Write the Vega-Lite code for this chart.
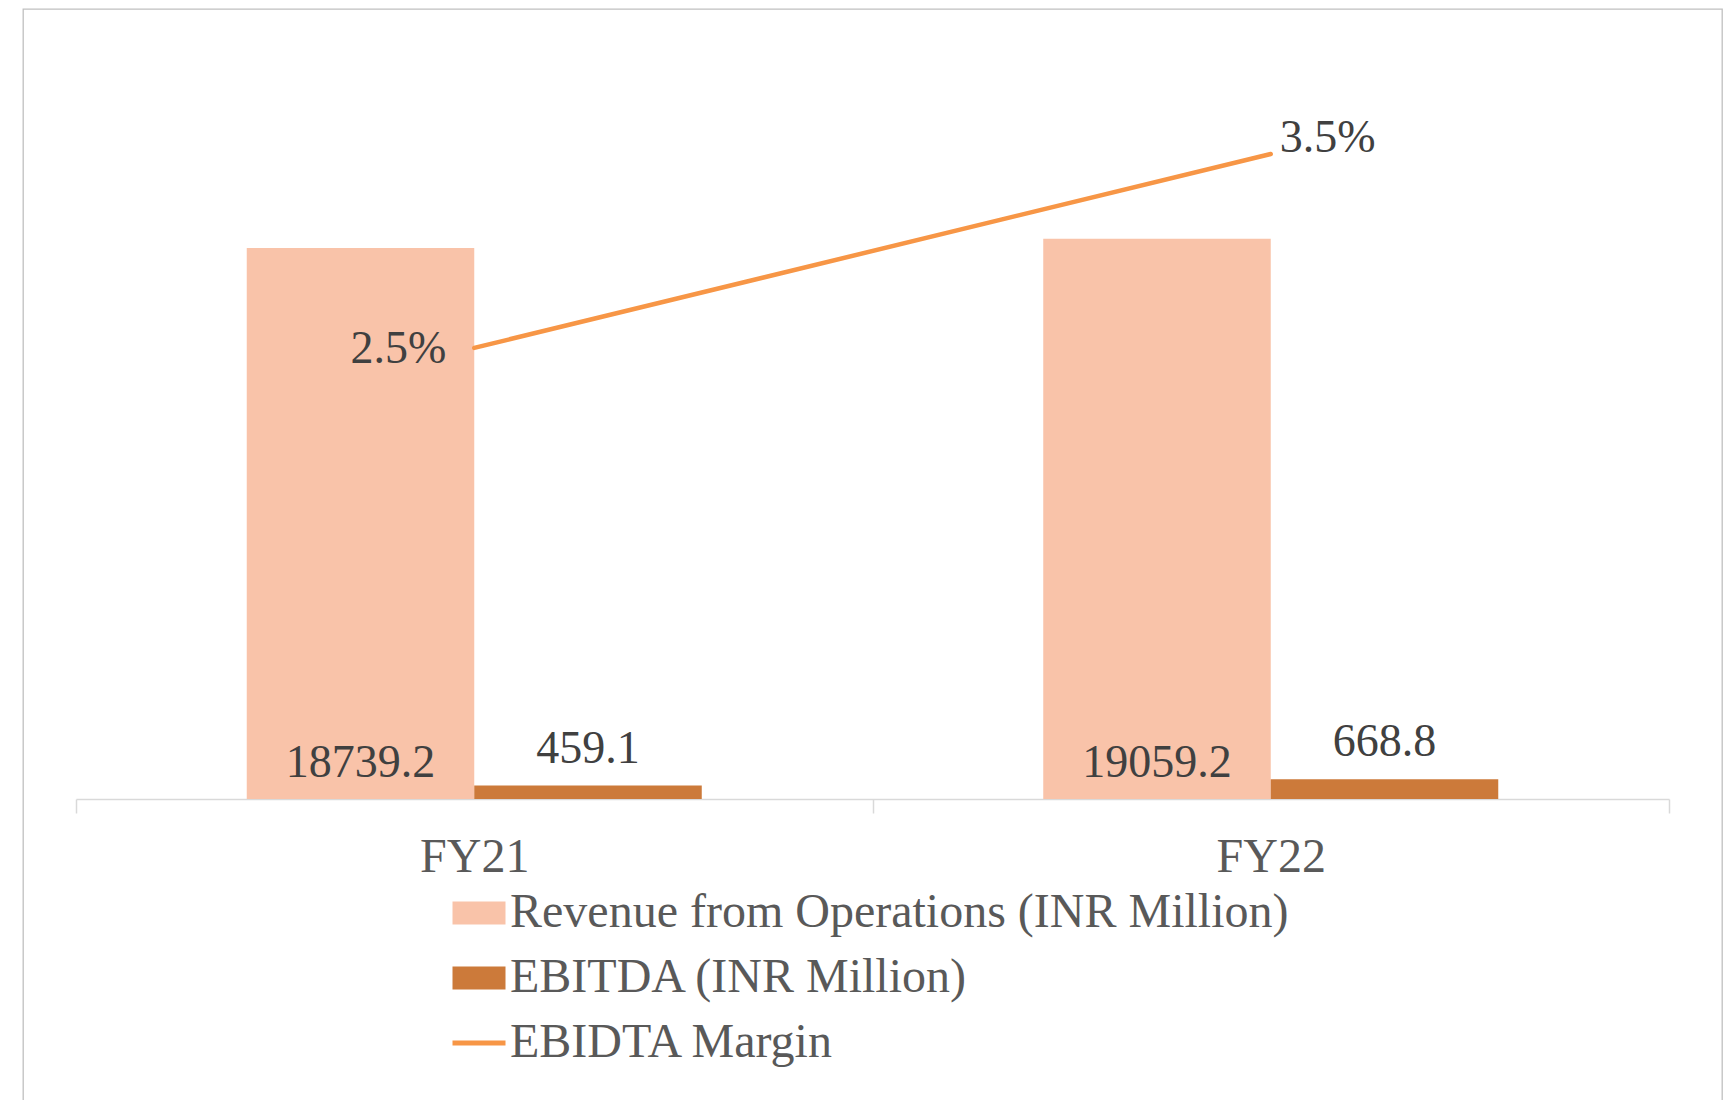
{
  "$schema": "https://vega.github.io/schema/vega-lite/v6.json",
  "width": 1699,
  "height": 1092,
  "autosize": {"type": "none"},
  "padding": {"left": 23, "top": 9, "right": 3, "bottom": 0},
  "background": "white",
  "config": {
    "view": {"stroke": "#c0c0c0", "strokeWidth": 1.3},
    "font": "Liberation Serif"
  },
  "datasets": {
    "bars": [
      {"year": "FY21", "series": "Revenue from Operations (INR Million)", "value": 18739.2},
      {"year": "FY21", "series": "EBITDA (INR Million)", "value": 459.1},
      {"year": "FY22", "series": "Revenue from Operations (INR Million)", "value": 19059.2},
      {"year": "FY22", "series": "EBITDA (INR Million)", "value": 668.8}
    ],
    "margin": [
      {"year": "FY21", "margin": 0.02455},
      {"year": "FY22", "margin": 0.0351}
    ]
  },
  "encoding": {
    "x": {
      "field": "year",
      "type": "nominal",
      "scale": {"range": [53, 1646], "paddingInner": 0, "paddingOuter": 0},
      "axis": {
        "title": null,
        "labelAngle": 0,
        "labelFont": "Liberation Serif",
        "labelFontSize": 48,
        "labelColor": "#595959",
        "labelPadding": 20,
        "tickSize": 14,
        "tickColor": "#d9d9d9",
        "tickWidth": 1.5,
        "domainColor": "#d9d9d9",
        "domainWidth": 1.5,
        "tickBand": "extent",
        "grid": false,
        "offset": -302
      }
    }
  },
  "layer": [
    {
      "data": {"name": "bars"},
      "layer": [
        {
          "mark": {"type": "bar"},
          "encoding": {
            "xOffset": {
              "field": "series",
              "type": "nominal",
              "scale": {"domain": ["Revenue from Operations (INR Million)", "EBITDA (INR Million)"], "paddingInner": 0, "paddingOuter": 0.7505}
            },
            "y": {
              "field": "value",
              "type": "quantitative",
              "scale": {"domain": [0, 25000], "range": [790, 55], "nice": false, "zero": true},
              "axis": null
            },
            "color": {
              "field": "series",
              "type": "nominal",
              "scale": {
                "domain": ["Revenue from Operations (INR Million)", "EBITDA (INR Million)", "EBIDTA Margin"],
                "range": ["#f9c3a9", "#cc7a3a", "#f79646"]
              },
              "legend": {
                "orient": "none",
                "legendX": 432,
                "legendY": 880,
                "direction": "vertical",
                "title": null,
                "padding": 0,
                "labelFont": "Liberation Serif",
                "labelFontSize": 48,
                "labelColor": "#595959",
                "labelOffset": 7,
                "labelLimit": 2000,
                "rowPadding": 17,
                "symbolSize": 2809,
                "symbolOpacity": 1,
                "encode": {
                  "symbols": {
                    "update": {
                      "shape": {"signal": "datum.value === 'EBIDTA Margin' ? 'stroke' : 'M-1,-0.434H1V0.434H-1Z'"},
                      "fill": {"signal": "datum.value === 'EBIDTA Margin' ? 'transparent' : (datum.value === 'EBITDA (INR Million)' ? '#cc7a3a' : '#f9c3a9')"},
                      "stroke": {"signal": "datum.value === 'EBIDTA Margin' ? '#f79646' : 'transparent'"},
                      "strokeWidth": {"signal": "datum.value === 'EBIDTA Margin' ? 5 : 0"}
                    }
                  }
                }
              }
            }
          }
        },
        {
          "transform": [{"filter": "datum.series === 'Revenue from Operations (INR Million)'"}],
          "mark": {"type": "text", "fontSize": 46, "color": "#404040", "baseline": "alphabetic", "align": "center", "dy": -22, "font": "Liberation Serif"},
          "encoding": {
            "xOffset": {"field": "series", "type": "nominal"},
            "y": {"datum": 0, "type": "quantitative"},
            "text": {"field": "value", "type": "quantitative", "format": ".1f"}
          }
        },
        {
          "transform": [{"filter": "datum.series === 'EBITDA (INR Million)'"}],
          "mark": {"type": "text", "fontSize": 46, "color": "#404040", "baseline": "alphabetic", "align": "center", "dy": -23, "font": "Liberation Serif"},
          "encoding": {
            "xOffset": {"field": "series", "type": "nominal"},
            "y": {"field": "value", "type": "quantitative"},
            "text": {"field": "value", "type": "quantitative", "format": ".1f"}
          }
        }
      ]
    },
    {
      "data": {"name": "margin"},
      "layer": [
        {
          "mark": {"type": "line", "strokeWidth": 4.5, "strokeCap": "round"},
          "encoding": {
            "y": {
              "field": "margin",
              "type": "quantitative",
              "scale": {"domain": [0, 0.04], "range": [790, 55], "nice": false},
              "axis": null
            },
            "color": {"datum": "EBIDTA Margin"}
          }
        },
        {
          "transform": [{"filter": "datum.year === 'FY21'"}],
          "mark": {"type": "text", "fontSize": 46, "color": "#404040", "baseline": "middle", "align": "right", "dx": -28, "dy": 1, "font": "Liberation Serif"},
          "encoding": {
            "y": {"field": "margin", "type": "quantitative"},
            "text": {"field": "margin", "type": "quantitative", "format": ".1%"}
          }
        },
        {
          "transform": [{"filter": "datum.year === 'FY22'"}],
          "mark": {"type": "text", "fontSize": 46, "color": "#404040", "baseline": "middle", "align": "left", "dx": 9, "dy": -16, "font": "Liberation Serif"},
          "encoding": {
            "y": {"field": "margin", "type": "quantitative"},
            "text": {"field": "margin", "type": "quantitative", "format": ".1%"}
          }
        }
      ]
    }
  ],
  "resolve": {"scale": {"y": "independent"}}
}
